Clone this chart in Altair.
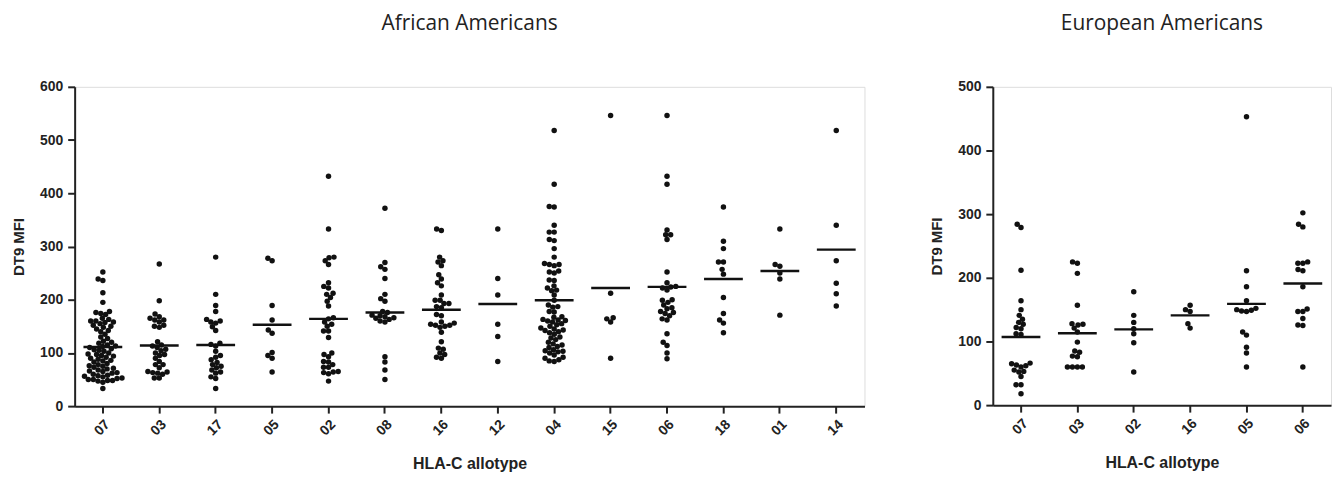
import math
import altair as alt
import pandas as pd

# ---------------- data ----------------
aa_cats = ["07", "03", "17", "05", "02", "08", "16", "12", "04", "15", "06", "18", "01", "14"]
aa_07 = [252, 239, 236, 213, 195, 178, 176, 174, 172, 165, 163, 160, 160, 158, 157, 155, 152, 150,
         148, 145, 142, 140, 135, 130, 127, 122, 120, 118, 115, 113, 112, 110, 108, 106, 105, 103,
         100, 98, 97, 95, 94, 92, 90, 88, 86, 85, 83, 80, 78, 76, 75, 73, 71, 70, 68, 66, 65, 63,
         62, 60, 58, 57, 56, 55, 53, 52, 50, 50, 48, 48, 47, 45, 33]
aa_03 = [267, 198, 173, 168, 165, 162, 162, 158, 152, 150, 148, 121, 115, 113, 110, 107, 104, 100,
         97, 95, 90, 84, 78, 78, 72, 65, 64, 63, 62, 60, 53, 53]
aa_17 = [280, 210, 189, 178, 163, 160, 158, 156, 149, 142, 118, 116, 113, 103, 95, 92, 87, 82, 78,
         75, 72, 68, 64, 62, 55, 52, 33]
aa_05 = [278, 273, 189, 162, 143, 137, 101, 95, 90, 64]
aa_02 = [432, 333, 280, 279, 273, 266, 232, 225, 222, 212, 210, 204, 197, 188, 166, 164, 158, 154,
         150, 141, 141, 129, 100, 97, 93, 84, 83, 78, 73, 73, 65, 64, 63, 61, 47]
aa_08 = [372, 270, 262, 257, 240, 210, 202, 197, 178, 176, 171, 170, 168, 166, 165, 163, 160, 158,
         93, 83, 68, 50]
aa_16 = [333, 330, 280, 273, 271, 264, 247, 239, 232, 226, 209, 199, 199, 193, 193, 187, 185, 172,
         170, 158, 156, 154, 152, 152, 150, 148, 139, 121, 109, 107, 100, 97, 92, 90]
aa_12 = [333, 240, 209, 154, 131, 84]
aa_04 = [518, 417, 375, 374, 340, 327, 327, 313, 311, 296, 280, 268, 266, 266, 264, 254, 252, 250,
         237, 236, 226, 222, 218, 217, 209, 199, 190, 187, 186, 178, 177, 168, 167, 163, 162, 161,
         160, 158, 155, 153, 150, 147, 145, 143, 142, 140, 138, 135, 130, 128, 125, 120, 117, 115,
         112, 110, 106, 104, 103, 102, 100, 96, 92, 90, 87, 85, 84]
aa_15 = [546, 212, 166, 164, 158, 90]
aa_06 = [546, 432, 417, 331, 322, 322, 313, 252, 232, 225, 224, 222, 218, 200, 199, 195, 190, 185,
         183, 178, 176, 174, 170, 164, 162, 136, 120, 114, 100, 89]
aa_18 = [374, 310, 296, 271, 271, 257, 248, 204, 174, 162, 156, 138]
aa_01 = [333, 266, 263, 250, 239, 171]
aa_14 = [518, 340, 273, 231, 211, 188]
aa_values = [aa_07, aa_03, aa_17, aa_05, aa_02, aa_08, aa_16, aa_12, aa_04, aa_15, aa_06, aa_18,
             aa_01, aa_14]
aa_means = [111, 114, 115, 153, 164, 176, 181, 192, 199, 222, 224, 239, 254, 294]

ea_cats = ["07", "03", "02", "16", "05", "06"]
ea_07 = [284, 279, 212, 164, 150, 141, 135, 130, 127, 122, 120, 112, 111, 66, 65, 63, 62, 60, 55,
         53, 52, 45, 32, 32, 18]
ea_03 = [225, 223, 207, 157, 128, 127, 126, 121, 115, 99, 85, 83, 77, 76, 60, 60, 60, 60]
ea_02 = [178, 141, 130, 120, 112, 98, 52]
ea_16 = [157, 150, 147, 128, 121]
ea_05 = [453, 211, 186, 164, 152, 150, 149, 148, 147, 115, 110, 91, 82, 60]
ea_06 = [302, 284, 280, 225, 223, 223, 213, 211, 186, 151, 147, 147, 136, 126, 125, 60]
ea_values = [ea_07, ea_03, ea_02, ea_16, ea_05, ea_06]
ea_means = [107, 113, 119, 141, 159, 191]

# ---------------- layout ----------------
STEP = 56.7
AA_W, AA_H, AA_MAX = round(STEP * len(aa_cats)), 321, 600
EA_W, EA_H, EA_MAX = round(STEP * len(ea_cats)), 320, 500
DOT = 5.0  # horizontal spacing between neighbouring dots (px) for the swarm
INK = "#222222"


def swarm(values, px_per_unit, d):
    """Beeswarm offsets (pixels) so that dots of diameter d do not overlap."""
    order = sorted(range(len(values)), key=lambda i: values[i])
    placed, offs = [], [0.0] * len(values)
    for i in order:
        y = values[i] * px_per_unit
        cands, intervals = [0.0], []
        for px, py in placed:
            dy = abs(py - y)
            if dy < d:
                w = math.sqrt(d * d - dy * dy)
                intervals.append((px - w, px + w))
                cands += [px - w, px + w]
        cands.sort(key=lambda c: (round(abs(c), 6), c))
        for c in cands:
            if all(not (a + 1e-6 < c < b - 1e-6) for a, b in intervals):
                offs[i] = c
                break
        placed.append((offs[i], y))
    return offs


def build_frame(cats, values, ymax, h):
    rows = []
    k = h / ymax
    for c, vals in zip(cats, values):
        for v, o in zip(vals, swarm(vals, k, DOT)):
            rows.append({"cat": c, "val": v, "off": o})
    return pd.DataFrame(rows)


def panel(cats, values, means, ymax, w, h, title):
    pts = build_frame(cats, values, ymax, h)
    mdf = pd.DataFrame({"cat": cats, "mean": means})
    xenc = alt.X("cat:N", sort=cats, title="HLA-C allotype",
                 scale=alt.Scale(paddingInner=0, paddingOuter=0),
                 axis=alt.Axis(labelAngle=-45, labelFontSize=14, labelFontWeight="bold",
                               labelColor=INK, titleFontSize=16, titleFontWeight="bold",
                               titleColor=INK, titlePadding=18, tickSize=7, tickWidth=2,
                               tickColor=INK, domainWidth=2, domainColor=INK, labelPadding=4))
    yscale = alt.Scale(domain=[0, ymax], nice=False)
    yaxis = alt.Axis(values=list(range(0, ymax + 1, 100)), labelFontSize=14,
                     labelFontWeight="bold", labelColor=INK, titleFontSize=15,
                     titleFontWeight="bold", titleColor=INK, titlePadding=13, tickSize=7,
                     tickWidth=2, tickColor=INK, domainWidth=2, domainColor=INK,
                     labelPadding=5, grid=False)
    dots = alt.Chart(pts).mark_circle(size=30, opacity=1, color="#111111").encode(
        x=xenc,
        xOffset=alt.XOffset("off:Q", scale=alt.Scale(domain=[-STEP / 2, STEP / 2])),
        y=alt.Y("val:Q", scale=yscale, axis=yaxis, title="DT9 MFI"),
    )
    means_l = alt.Chart(mdf).mark_tick(size=39, thickness=2.4, color="#111111",
                                       opacity=1).encode(
        x=alt.X("cat:N", sort=cats),
        y=alt.Y("mean:Q", scale=yscale),
    )
    return alt.layer(dots, means_l).properties(
        width=w, height=h,
        title=alt.TitleParams(title, fontSize=21, font="Open Sans", fontWeight="normal",
                              color=INK, offset=46, anchor="middle"),
    )


left = panel(aa_cats, aa_values, aa_means, AA_MAX, AA_W, AA_H, "African Americans")
right = panel(ea_cats, ea_values, ea_means, EA_MAX, EA_W, EA_H, "European Americans")

chart = alt.hconcat(left, right, spacing=64).configure_view(stroke=None).configure(
    font="Liberation Sans", padding={"left": 3, "top": 3, "right": 2, "bottom": 2})

chart.save("out.html", embed_options={"renderer": "svg", "actions": False})
